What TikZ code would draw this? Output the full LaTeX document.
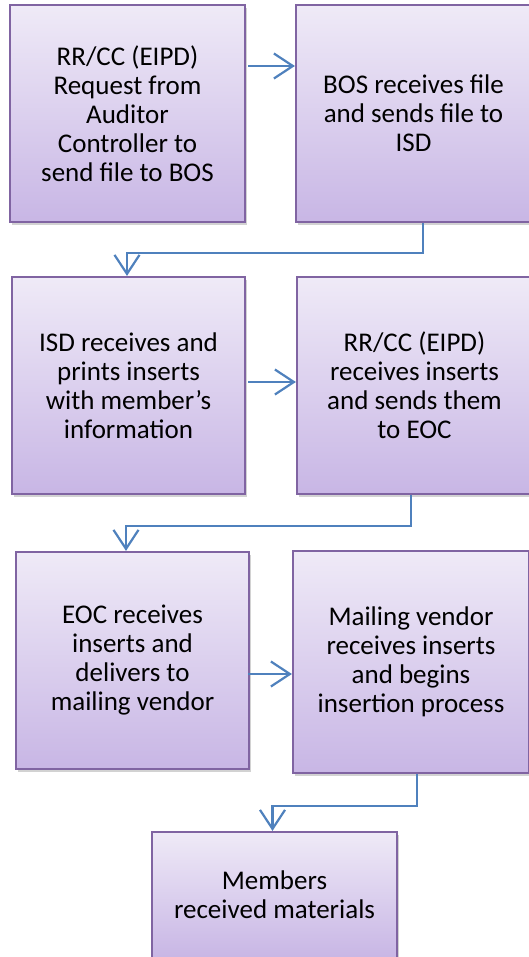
\documentclass[tikz,border=0pt]{standalone}
\usepackage{fontspec}
\setmainfont{Carlito}
\usepackage{xcolor}
\usepackage{tikz}
\usetikzlibrary{arrows.meta,shadows}

\definecolor{boxline}{RGB}{128,100,162}
\definecolor{boxtop}{RGB}{239,234,247}
\definecolor{boxbot}{RGB}{200,182,229}
\definecolor{flowblue}{RGB}{79,129,189}

\begin{document}
\begin{tikzpicture}[x=1pt,y=-1pt,
    stage/.style={rectangle, draw=boxline, line width=2.2pt, top color=boxtop, bottom color=boxbot,
      inner sep=0pt, align=center, font=\fontsize{27}{29}\selectfont,
      drop shadow={shadow xshift=2pt, shadow yshift=-3pt, opacity=0.25, fill=black!70}},
    flow/.style={draw=flowblue, line width=2.2pt, -{Straight Barb[length=19pt,width=25pt]}}]
      \clip (0,0) rectangle (529,957);
      % first row
      \node[stage, minimum width=235pt, minimum height=217pt] (req) at (127.5,113.5)
        {RR/CC (EIPD)\\Request from\\Auditor\\Controller to\\send file to BOS};
      \node[stage, minimum width=235pt, minimum height=217pt] (bos) at (413.5,113.5)
        {BOS receives file\\and sends file to\\ISD};
      % second row
      \node[stage, minimum width=233pt, minimum height=217pt] (isd) at (128.5,385.5)
        {ISD receives and\\prints inserts\\with member’s\\information};
      \node[stage, minimum width=235pt, minimum height=217pt] (rec) at (414.5,385.5)
        {RR/CC (EIPD)\\receives inserts\\and sends them\\to EOC};
      % third row
      \node[stage, minimum width=233pt, minimum height=217pt] (eoc) at (132.5,660.5)
        {EOC receives\\inserts and\\delivers to\\mailing vendor};
      \node[stage, minimum width=236pt, minimum height=222pt] (mail) at (411,662)
        {Mailing vendor\\receives inserts\\and begins\\insertion process};
      % last one
      \node[stage, minimum width=245pt, minimum height=126pt] (mem) at (274.5,895)
        {Members\\received materials};

      \draw[flow] ([xshift=2pt,yshift=47.5pt]req.east) -- ([yshift=47.5pt]bos.west);
      \draw[flow] ([xshift=9.5pt]bos.south) -- ++(0,30) -| ([xshift=-1.5pt]isd.north);
      \draw[flow] ([xshift=2pt,yshift=3.5pt]isd.east) -- ([yshift=3.5pt]rec.west);
      \draw[flow] ([xshift=-3.5pt]rec.south) -- ++(0,31) -| ([xshift=-6.5pt]eoc.north);
      \draw[flow] ([xshift=-2pt,yshift=-13.5pt]eoc.east) -- ([yshift=-12pt]mail.west);
      \draw[flow] ([xshift=6pt]mail.south) -- ++(0,32) -| ([xshift=-2pt]mem.north);
    \end{tikzpicture}
\end{document}
